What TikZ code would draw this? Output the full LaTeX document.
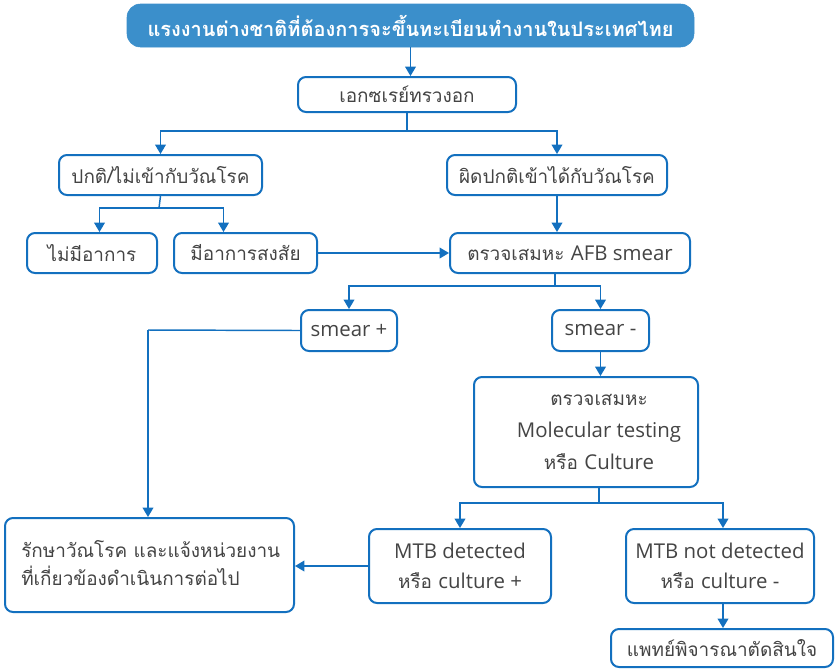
\documentclass[tikz,border=0pt]{standalone}
\usepackage{fontspec}
\setmainfont[Script=Thai]{Loma}
\newfontfamily\latinfont{Open Sans}
\newcommand\lat[1]{{\latinfont\fontsize{15.3}{17}\selectfont #1}}
\usetikzlibrary{arrows.meta}
\definecolor{flowblue}{HTML}{1370BF}
\definecolor{titlefill}{HTML}{3B8FCB}
\definecolor{txtgray}{HTML}{444444}
\begin{document}
\begin{tikzpicture}[x=0.75pt,y=-0.75pt,
  box/.style={draw=flowblue, line width=1.5pt, rounded corners=6pt, fill=white,
    text=txtgray, inner sep=0pt, align=center, font=\fontsize{14.2}{17}\selectfont},
  titlebox/.style={fill=titlefill, draw=titlefill, rounded corners=10pt, text=white,
    inner sep=0pt, font=\fontsize{15}{18}\selectfont\bfseries},
  txt/.style={text=txtgray, inner sep=0pt, font=\fontsize{14.2}{17}\selectfont},
  link/.style={draw=flowblue, line width=1.1pt},
  arr/.style={link, -{Triangle[width=8pt,length=7pt]}}]
\useasboundingbox (0,0) rectangle (835,669);

% boxes
\node[titlebox, minimum width=567*0.75pt, minimum height=43*0.75pt] (title) at (410.5,25.5)
  {แรงงานต่างชาติที่ต้องการจะขึ้นทะเบียนทำงานในประเทศไทย};
\node[box, minimum width=218*0.75pt, minimum height=35*0.75pt] (xray) at (407,94.5) {เอกซเรย์ทรวงอก};
\node[box, minimum width=203*0.75pt, minimum height=40*0.75pt] (normal) at (160.5,175) {ปกติ/ไม่เข้ากับวัณโรค};
\node[box, minimum width=220*0.75pt, minimum height=40*0.75pt] (abnormal) at (557,175) {ผิดปกติเข้าได้กับวัณโรค};
\node[box, minimum width=130*0.75pt, minimum height=40*0.75pt] (nosym) at (92,253) {ไม่มีอาการ};
\node[box, minimum width=143*0.75pt, minimum height=40*0.75pt] (sym) at (245.5,253) {มีอาการสงสัย};
\node[box, minimum width=240*0.75pt, minimum height=40*0.75pt] (afb) at (570,253) {ตรวจเสมหะ \lat{AFB smear}};
\node[box, minimum width=96*0.75pt, minimum height=41*0.75pt] (smpos) at (349,330.5) {\lat{smear +}};
\node[box, minimum width=97*0.75pt, minimum height=41*0.75pt] (smneg) at (600.5,330.5) {\lat{smear -}};
\node[box, minimum width=224*0.75pt, minimum height=110*0.75pt] (mol) at (586,432) {};
\node[txt, align=center, font=\fontsize{14.2}{24}\selectfont] (moltext) at (599,432)
  {ตรวจเสมหะ\\\lat{Molecular testing}\\หรือ \lat{Culture}};
\node[box, minimum width=182*0.75pt, minimum height=74*0.75pt, font=\fontsize{14.2}{22.5}\selectfont] (mtbpos) at (460,566)
  {\lat{MTB detected}\\หรือ \lat{culture +}};
\node[box, minimum width=188*0.75pt, minimum height=74*0.75pt, font=\fontsize{14.2}{22.5}\selectfont] (mtbneg) at (720,566)
  {\lat{MTB not detected}\\หรือ \lat{culture -}};
\node[box, minimum width=289*0.75pt, minimum height=94*0.75pt] (treat) at (149.5,565) {};
\node[txt, align=left, anchor=west, font=\fontsize{14.2}{21}\selectfont] (treattext) at (21,563)
  {รักษาวัณโรค และแจ้งหน่วยงาน\\ที่เกี่ยวข้องดำเนินการต่อไป};
\node[box, minimum width=222*0.75pt, minimum height=38*0.75pt] (doc) at (722,648) {แพทย์พิจารณาตัดสินใจ};

% junction points
\coordinate (j1) at (407,131);
\coordinate (j2) at (159,208);
\coordinate (j3) at (555,286);
\coordinate (j4) at (599,503);
\coordinate (j5) at (148,330);

% connectors
\draw[arr] (title.south) -- (title.south |- xray.north);
\draw[link] (xray.south) -- (j1);
\draw[arr] (j1) -| (normal.north);
\draw[arr] (j1) -| (abnormal.north);
\draw[link] (normal.south) -- (j2);
\draw[arr] (j2) -| ([xshift=-61*0.75pt]normal.south |- nosym.north);
\draw[arr] (j2) -| ([xshift=-22*0.75pt]sym.north);
\draw[arr] (sym.east) -- (afb.west);
\draw[arr] (abnormal.south) -- (abnormal.south |- afb.north);
\draw[link] (afb.south -| j3) -- (j3);
\draw[arr] (j3) -| (smpos.north);
\draw[arr] (j3) -| (smneg.north);
\draw[link] (smpos.west) -- (j5);
\draw[arr] (j5) -- (j5 |- treat.north);
\draw[arr] (smneg.south) -- (smneg.south |- mol.north);
\draw[link] (mol.south -| j4) -- (j4);
\draw[arr] (j4) -| (mtbpos.north);
\draw[arr] (j4) -| ([xshift=3*0.75pt]mtbneg.north);
\draw[arr] (mtbpos.west) -- (mtbpos.west -| treat.east);
\draw[arr] ([xshift=3*0.75pt]mtbneg.south) -- ([xshift=3*0.75pt]mtbneg.south |- doc.north);
\end{tikzpicture}
\end{document}
